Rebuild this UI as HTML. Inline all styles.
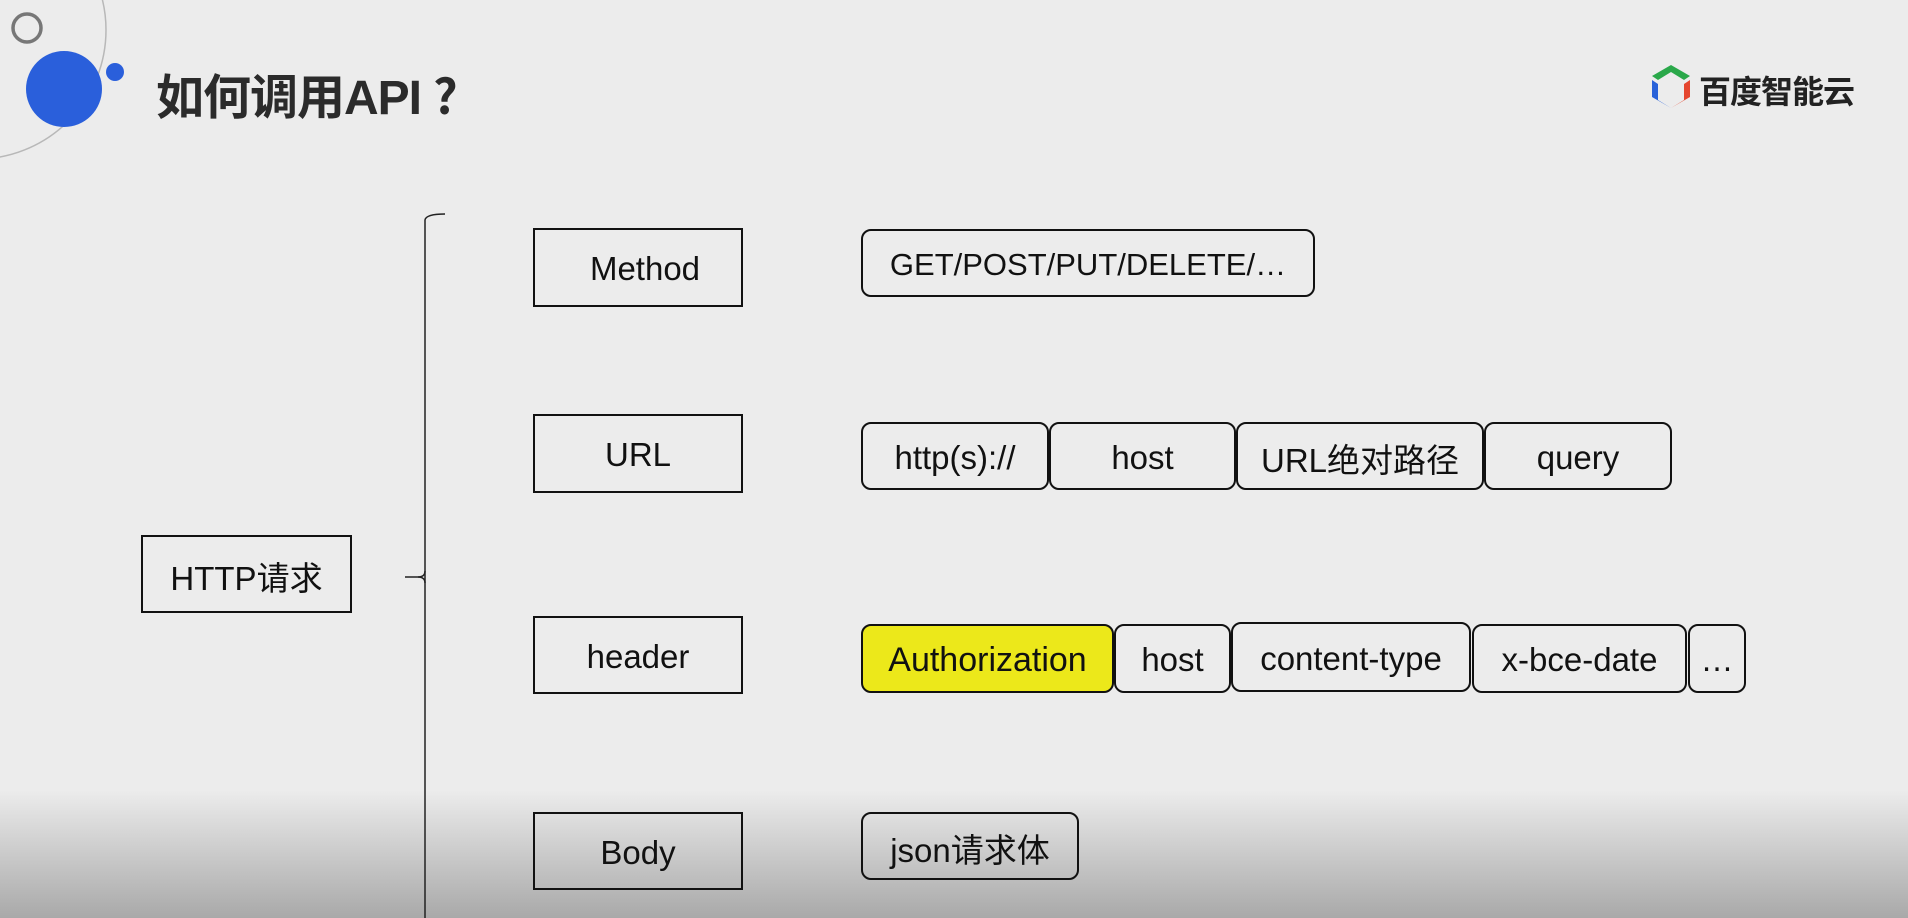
<!DOCTYPE html>
<html><head><meta charset="utf-8"><style>
html,body{margin:0;padding:0}
body{width:1908px;height:918px;position:relative;overflow:hidden;background:#ececec;font-family:"Liberation Sans","Noto Sans CJK SC",sans-serif;color:#111}
.grad{position:absolute;left:0;top:790px;width:1908px;height:128px;background:linear-gradient(#ececec,#a9a9a9)}
.b{position:absolute;box-sizing:border-box;border:2px solid #111;display:flex;align-items:center;justify-content:center;font-size:33px;padding-top:3px}
.r{border-radius:10px;border-width:2px}
.t{position:absolute;left:156px;top:58px;font-size:48px;font-weight:bold;color:#2b2b2b;font-family:"Liberation Sans","Noto Sans CJK SC",sans-serif;letter-spacing:-1px}
</style></head><body>
<div class="grad"></div>
<svg width="1908" height="918" style="position:absolute;left:0;top:0">
<circle cx="-23" cy="30" r="129" fill="none" stroke="#b8b8b8" stroke-width="1.5"/>
<circle cx="27" cy="28" r="14" fill="none" stroke="#777" stroke-width="3.5"/>
<circle cx="64" cy="89" r="38" fill="#2a5fdb"/>
<circle cx="115" cy="72" r="9" fill="#2a5fdb"/>
<path d="M445 214 Q426 214 425 220 L425 918" fill="none" stroke="#222" stroke-width="1.5"/>
<path d="M405 577 L418 577 Q425 577 425 571" fill="none" stroke="#222" stroke-width="1.5"/>
<path d="M425 583 Q425 577 418 577" fill="none" stroke="#222" stroke-width="1.5"/>
<polygon points="1671,65 1690,76 1684,80 1671,72 1658,80 1652,76" fill="#2aa84a"/>
<polygon points="1652,80 1658,84 1658,100 1671,108 1652,97" fill="#2962d9"/>
<polygon points="1690,80 1684,84 1684,100 1671,108 1690,97" fill="#e5462f"/>
</svg>
<div style="position:absolute;left:1699px;top:67px;font-size:32px;font-weight:bold;color:#222;font-family:'Noto Sans CJK SC',sans-serif;letter-spacing:-1px">百度智能云</div>
<div class="t">如何调用API<span style="font-family:'Noto Sans CJK SC',sans-serif;margin-left:12px">?</span></div>

<div class="b" style="left:141px;top:535px;width:211px;height:78px">HTTP请求</div>
<div class="b" style="left:533px;top:228px;width:210px;height:79px;padding-left:14px">Method</div>
<div class="b" style="left:533px;top:414px;width:210px;height:79px">URL</div>
<div class="b" style="left:533px;top:616px;width:210px;height:78px">header</div>
<div class="b" style="left:533px;top:812px;width:210px;height:78px">Body</div>

<div class="b r" style="left:861px;top:229px;width:454px;height:68px;font-size:31px">GET/POST/PUT/DELETE/…</div>

<div class="b r" style="left:861px;top:422px;width:188px;height:68px">http(s)://</div>
<div class="b r" style="left:1049px;top:422px;width:187px;height:68px">host</div>
<div class="b r" style="left:1236px;top:422px;width:248px;height:68px">URL绝对路径</div>
<div class="b r" style="left:1484px;top:422px;width:188px;height:68px">query</div>

<div class="b r" style="left:861px;top:624px;width:253px;height:69px;background:#ece81a;font-size:34px">Authorization</div>
<div class="b r" style="left:1114px;top:624px;width:117px;height:69px">host</div>
<div class="b r" style="left:1231px;top:622px;width:240px;height:70px">content-type</div>
<div class="b r" style="left:1472px;top:624px;width:215px;height:69px">x-bce-date</div>
<div class="b r" style="left:1688px;top:624px;width:58px;height:69px">…</div>

<div class="b r" style="left:861px;top:812px;width:218px;height:68px">json请求体</div>
</body></html>
